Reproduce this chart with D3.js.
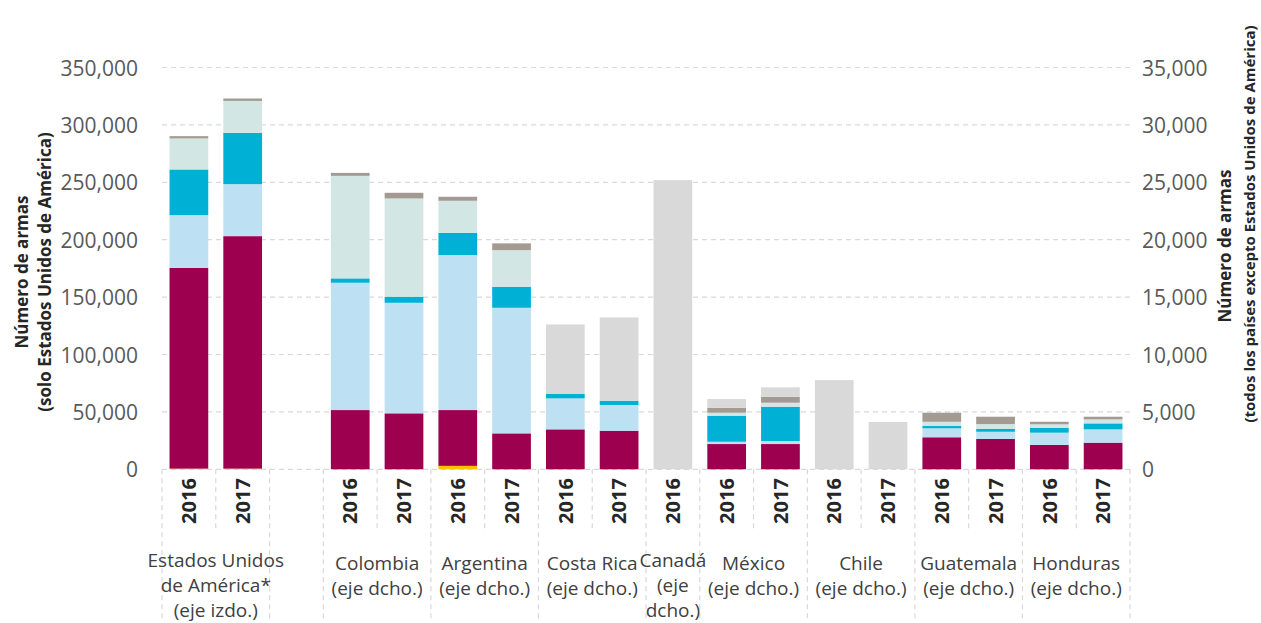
<!DOCTYPE html>
<html>
<head>
<meta charset="utf-8">
<script src="https://cdn.jsdelivr.net/npm/d3@7"></script>
<style>
  html, body { margin: 0; padding: 0; background: #ffffff; }
  svg { display: block; font-family: "Open Sans", "Noto Sans", sans-serif; }
</style>
</head>
<body>
<svg id="chart" width="1261" height="623"></svg>
<script>
// ---- Data ----
// 18 category slots (one empty gap slot after Estados Unidos)
const slotYears = ["2016","2017","","2016","2017","2016","2017","2016","2017","2016","2016","2017","2016","2017","2016","2017","2016","2017"];
const slotGroup = [0,0,1,2,2,3,3,4,4,5,6,6,7,7,8,8,9,9];
const slotAxis  = ["L","L","","R","R","R","R","R","R","R","R","R","R","R","R","R","R","R"];
const groupLabels = [
  ["Estados Unidos","de América*","(eje izdo.)"],
  [],
  ["Colombia","(eje dcho.)"],
  ["Argentina","(eje dcho.)"],
  ["Costa Rica","(eje dcho.)"],
  ["Canadá","(eje","dcho.)"],
  ["México","(eje dcho.)"],
  ["Chile","(eje dcho.)"],
  ["Guatemala","(eje dcho.)"],
  ["Honduras","(eje dcho.)"]
];
const leftTicks  = [0,50000,100000,150000,200000,250000,300000,350000];
const rightTicks = [0,5000,10000,15000,20000,25000,30000,35000];

const seriesNames = ["Serie A","Serie B","Serie C","Serie D","Serie E","Serie F","Serie G"];
const serieA = [600,600,0,0,0,300,0,0,0,0,0,0,0,0,0,0,0,0];
const serieB = [174900,202500,0,5160,4875,4860,3130,3480,3360,0,2200,2200,0,0,2790,2640,2120,2320];
const serieC = [45900,45300,0,11090,9630,13500,10940,2700,2240,0,200,260,0,0,780,630,1070,1160];
const serieD = [39800,44700,0,380,530,1940,1830,380,370,0,2270,2990,0,0,200,240,430,520];
const serieE = [27000,27800,0,8930,8560,2790,3190,0,0,0,260,350,0,0,370,430,300,350];
const serieF = [2000,2100,0,260,490,350,590,0,0,0,430,520,0,0,790,640,220,230];
const serieG = [0,0,0,0,0,0,0,6060,7260,25190,760,820,7770,4120,0,0,0,0];
const seriesColors = ["#FFC000","#9E0050","#BDE1F3","#00B0D5","#D2E6E4","#A39A92","#D9D9D9"];

// ---- Build table ----
const seriesData = [serieA,serieB,serieC,serieD,serieE,serieF,serieG];
const rows = slotYears.map((y,i) => {
  const r = {slot: i};
  seriesNames.forEach((n,k) => r[n] = seriesData[k][i]);
  return r;
});

const svg = d3.select("#chart");
const x0 = 162, x1 = 1130, yBase = 469.3, yTop = 67.5;

const x = d3.scaleBand().domain(d3.range(slotYears.length)).range([x0, x1])
  .paddingInner(0.28).paddingOuter(0.14);
const yL = d3.scaleLinear().domain([0,350000]).range([yBase, yTop]);
const yR = d3.scaleLinear().domain([0,35000]).range([yBase, yTop]);

// gridlines
svg.append("g").selectAll("line").data(leftTicks).join("line")
  .attr("x1", x0).attr("x2", x1)
  .attr("y1", d => yL(d)).attr("y2", d => yL(d))
  .attr("stroke", "#D9D9D9").attr("stroke-width", 1.2)
  .attr("stroke-dasharray", "5,4");

// stacked bars
const stack = d3.stack().keys(seriesNames);
const stacked = stack(rows);
svg.append("g").selectAll("g").data(stacked).join("g")
  .attr("fill", (d,i) => seriesColors[i])
  .selectAll("rect").data(d => d.filter(p => slotAxis[p.data.slot] !== "" && p[1] > p[0])).join("rect")
  .attr("x", p => x(p.data.slot))
  .attr("width", x.bandwidth())
  .attr("y", p => (slotAxis[p.data.slot] === "L" ? yL : yR)(p[1]))
  .attr("height", p => { const s = slotAxis[p.data.slot] === "L" ? yL : yR; return s(p[0]) - s(p[1]); });

// axes
const fmt = d3.format(",");
const gL = svg.append("g").attr("transform", `translate(${x0},0)`)
  .call(d3.axisLeft(yL).tickValues(leftTicks).tickFormat(fmt).tickSize(0).tickPadding(24));
const gR = svg.append("g").attr("transform", `translate(${x1},0)`)
  .call(d3.axisRight(yR).tickValues(rightTicks).tickFormat(fmt).tickSize(0).tickPadding(12));
[gL, gR].forEach(g => {
  g.select(".domain").remove();
  g.selectAll("text").attr("fill", "#595959").style("font-size", "21px")
    .style("font-family", '"Open Sans", sans-serif').attr("dy", "0.36em");
});

// category axis separators
const step = x.step();
const groupBounds = [];
slotGroup.forEach((g,i) => {
  if (i === 0 || slotGroup[i-1] !== g) groupBounds.push(x0 + i*step);
});
groupBounds.push(x1);
svg.append("g").selectAll("line").data(groupBounds).join("line")
  .attr("x1", d => d).attr("x2", d => d)
  .attr("y1", yBase).attr("y2", 622)
  .attr("stroke", "#D9D9D9").attr("stroke-width", 1.2).attr("stroke-dasharray", "5,4");
// inner separators between years
const inner = [];
slotGroup.forEach((g,i) => { if (i > 0 && slotGroup[i-1] === g) inner.push(x0 + i*step); });
svg.append("g").selectAll("line").data(inner).join("line")
  .attr("x1", d => d).attr("x2", d => d)
  .attr("y1", yBase).attr("y2", 532)
  .attr("stroke", "#D9D9D9").attr("stroke-width", 1.2).attr("stroke-dasharray", "5,4");

// year labels
svg.append("g").selectAll("text").data(d3.range(slotYears.length).filter(i => slotYears[i] !== "")).join("text")
  .attr("transform", i => `translate(${x(i) + x.bandwidth()/2},${501}) rotate(-90)`)
  .attr("text-anchor", "middle").attr("dy", "0.36em")
  .attr("fill", "#262626").style("font-size", "20px").style("font-weight", "700")
  .text(i => slotYears[i]);

// group labels
const groupCenters = groupLabels.map((lines, g) => {
  const idx = d3.range(slotGroup.length).filter(i => slotGroup[i] === g);
  return x0 + (idx[0] + idx.length/2) * step;
});
const gl = svg.append("g");
groupLabels.forEach((lines, g) => {
  lines.forEach((t, j) => {
    gl.append("text")
      .attr("x", groupCenters[g]).attr("y", (lines.length === 3 ? 560 : 563) + j*25)
      .attr("text-anchor", "middle").attr("dy", "0.36em")
      .attr("fill", "#404040").style("font-size", "19px")
      .text(t);
  });
});

// axis titles
const tL = svg.append("text").attr("transform", "translate(22,272) rotate(-90)")
  .attr("text-anchor", "middle").attr("fill", "#262626")
  .style("font-size", "17px").style("font-weight", "700");
tL.append("tspan").attr("x", 0).attr("dy", "0.36em").text("Número de armas");
tL.append("tspan").attr("x", 0).attr("dy", "1.35em").text("(solo Estados Unidos de América)");

svg.append("text").attr("transform", "translate(1225,246) rotate(-90)")
  .attr("text-anchor", "middle").attr("dy", "0.36em").attr("fill", "#262626")
  .style("font-size", "17px").style("font-weight", "700").text("Número de armas");
svg.append("text").attr("transform", "translate(1250,224) rotate(-90)")
  .attr("text-anchor", "middle").attr("dy", "0.36em").attr("fill", "#262626")
  .style("font-size", "15px").style("font-weight", "700")
  .text("(todos los países excepto Estados Unidos de América)");
</script>
</body>
</html>
